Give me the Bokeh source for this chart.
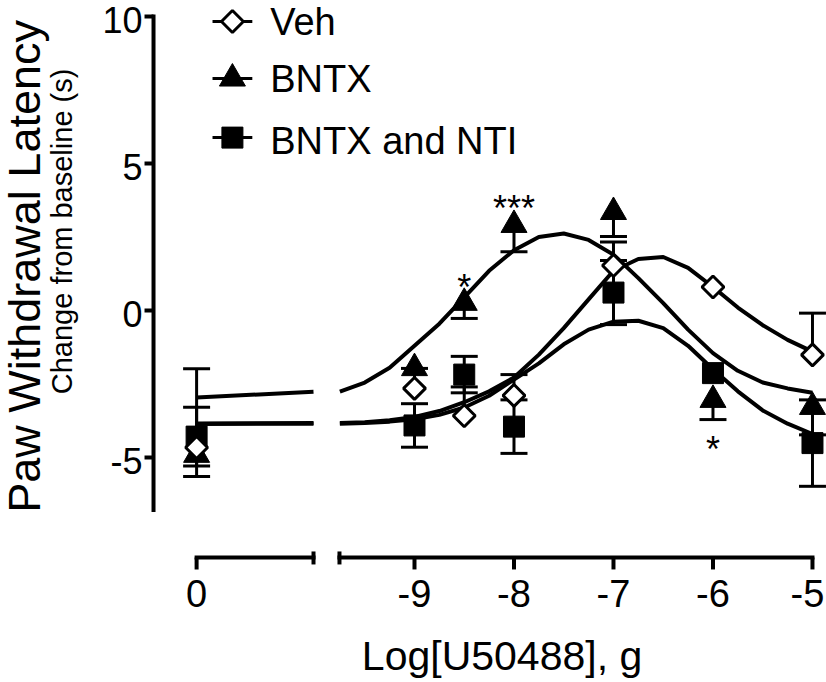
import math
from bokeh.plotting import figure
from bokeh.core.properties import value
from bokeh.embed import file_html
from bokeh.resources import INLINE

# ---------------- data ----------------
X_ZERO = -11.19                     # plotting position of the "0" dose on the broken axis
dose_x = [X_ZERO, -9.0, -8.5, -8.0, -7.0, -6.0, -5.0]
x_tick_values = [X_ZERO, -9.0, -8.0, -7.0, -6.0, -5.0]
x_tick_labels = ["0", "-9", "-8", "-7", "-6", "-5"]
y_tick_values = [-5, 0, 5, 10]
y_tick_labels = ["-5", "0", "5", "10"]

veh_mean = [-4.66, -2.65, -3.58, -2.89, 1.53, 0.80, -1.51]
veh_err_up = [2.68, 0.68, 0.98, 0.71, 0.80, 0.0, 1.42]

bntx_mean = [-4.91, -1.96, 0.26, 2.91, 3.35, -3.04, -3.28]
bntx_err_down = [0.74, 0.0, 0.53, 0.91, 0.83, 0.67, 0.95]

nti_mean = [-4.29, -3.91, -2.18, -3.95, 0.61, -2.13, -4.51]
nti_err = [1.00, 0.74, 0.62, 0.91, 1.09, 0.0, 1.47]

# fitted curves
curve_x = [-9.75, -9.5, -9.25, -9.0, -8.75, -8.5, -8.25, -8.0, -7.75, -7.5,
           -7.25, -7.0, -6.75, -6.5, -6.25, -6.0, -5.75, -5.5, -5.25, -5.0]
bntx_curve = [-2.76, -2.45, -1.95, -1.20, -0.45, 0.45, 1.35, 2.05, 2.50, 2.62,
              2.40, 1.90, 1.10, 0.25, -0.65, -1.45, -2.05, -2.45, -2.65, -2.80]
veh_curve = [-3.83, -3.80, -3.73, -3.62, -3.42, -3.12, -2.75, -2.28, -1.50, -0.60,
             0.38, 1.35, 1.75, 1.82, 1.45, 0.80, 0.10, -0.50, -1.00, -1.40]
nti_curve = [-3.85, -3.83, -3.78, -3.70, -3.55, -3.30, -2.90, -2.35, -1.80, -1.15,
             -0.65, -0.38, -0.35, -0.60, -1.20, -2.00, -2.75, -3.40, -3.85, -4.20]

left_x = [X_ZERO, -10.015]
bntx_left = [-2.96, -2.76]
veh_left = [-3.84, -3.83]
nti_left = [-3.86, -3.85]

sig_x = [-8.5, -8.0, -6.0]
sig_y = [1.09, 3.78, -4.42]
sig_text = ["*", "***", "*"]

series_names = ["Veh", "BNTX", "BNTX and NTI"]

# ---------------- figure ----------------
FONT = "Liberation Sans"
PX_X = 99.5   # px per x unit
PX_Y = 29.4   # px per y unit

p = figure(width=826, height=682, x_range=(-13.161, -4.859), y_range=(-12.653, 10.544),
           output_backend="svg", toolbar_location=None,
           x_axis_location=None, y_axis_location=None,
           min_border_left=0, min_border_right=0, min_border_top=0, min_border_bottom=0)
p.outline_line_color = None
p.grid.visible = False
p.background_fill_color = "white"
p.border_fill_color = "white"

def txt(x, y, t, size, align="center", angle=0.0, y_offset=0, x_offset=0):
    p.text(x=x, y=y, text=t, angle=angle, x_offset=x_offset, y_offset=y_offset,
           text_align=align, text_baseline="middle", text_font=value(FONT),
           text_font_size=size, text_color="black")

# ---- y axis ----
ax_x = -11.623
p.segment(x0=[ax_x], x1=[ax_x], y0=[-6.85], y1=[10 + 2 / PX_Y], line_width=4, line_color="black")
p.segment(x0=[ax_x] * 4, x1=[ax_x - 9 / PX_X] * 4, y0=y_tick_values, y1=y_tick_values,
          line_width=4, line_color="black")
txt([ax_x - 11 / PX_X] * 4, y_tick_values, y_tick_labels, "36px", align="right", y_offset=4)

# y titles
txt([-12.92], [1.50], ["Paw Withdrawal Latency"], "45px", angle=math.pi / 2)
txt([-12.54], [2.69], ["Change from baseline (s)"], "29px", angle=math.pi / 2)

# ---- broken x axis ----
ax_y = -8.40
ext = 2.0 / PX_X
p.segment(x0=[X_ZERO - ext, -9.754 - ext], x1=[-10.015 + ext, -5.0 + ext],
          y0=[ax_y, ax_y], y1=[ax_y, ax_y], line_width=4, line_color="black")
p.segment(x0=x_tick_values, x1=x_tick_values, y0=[ax_y] * 6,
          y1=[ax_y - 12 / PX_Y] * 6, line_width=4, line_color="black")
p.segment(x0=[-10.015, -9.754], x1=[-10.015, -9.754], y0=[ax_y + 6 / PX_Y] * 2,
          y1=[ax_y - 7 / PX_Y] * 2, line_width=4, line_color="black")
txt(x_tick_values, [ax_y - 36 / PX_Y] * 6, x_tick_labels, "38px",
    x_offset=[0, 0, 0, 0, 0, -5])
txt([-8.12], [ax_y - 99 / PX_Y], ["Log[U50488], g"], "41px")

# ---- curves ----
for xs, ys in [(left_x, bntx_left), (left_x, veh_left), (left_x, nti_left),
               (curve_x, bntx_curve), (curve_x, veh_curve), (curve_x, nti_curve)]:
    p.line(xs, ys, line_width=4, line_color="black", line_join="round")

# ---- error bars ----
EW = 3
CAP = 27
vx = [x for x, e in zip(dose_x, veh_err_up) if e > 0]
vy0 = [m for m, e in zip(veh_mean, veh_err_up) if e > 0]
vy1 = [m + e for m, e in zip(veh_mean, veh_err_up) if e > 0]
bx = [x for x, e in zip(dose_x, bntx_err_down) if e > 0]
by0 = [m for m, e in zip(bntx_mean, bntx_err_down) if e > 0]
by1 = [m - e for m, e in zip(bntx_mean, bntx_err_down) if e > 0]
nx = [x for x, e in zip(dose_x, nti_err) if e > 0]
ny0 = [m - e for m, e in zip(nti_mean, nti_err) if e > 0]
ny1 = [m + e for m, e in zip(nti_mean, nti_err) if e > 0]

p.segment(x0=vx, x1=vx, y0=vy0, y1=vy1, line_width=EW, line_color="black")
p.scatter(vx, vy1, marker="dash", size=CAP, line_width=EW, line_color="black")
p.segment(x0=bx, x1=bx, y0=by0, y1=by1, line_width=EW, line_color="black")
p.scatter(bx, by1, marker="dash", size=CAP, line_width=EW, line_color="black")
p.segment(x0=nx, x1=nx, y0=ny0, y1=ny1, line_width=EW, line_color="black")
p.scatter(nx + nx, ny0 + ny1, marker="dash", size=CAP, line_width=EW, line_color="black")

# ---- markers ----
SQ = 21
TRI = 26
DIA = 15.5
p.scatter(dose_x, nti_mean, marker="square", size=SQ, fill_color="black", line_color="black")
p.scatter(dose_x, bntx_mean, marker="triangle", size=TRI, fill_color="black", line_color="black")
p.scatter(dose_x, veh_mean, marker="square", angle=math.pi / 4, size=DIA,
          fill_color="white", line_color="black", line_width=3)

# ---- significance marks ----
txt(sig_x, sig_y, sig_text, "36px", y_offset=9)

# ---- legend (drawn manually) ----
leg_line_x0, leg_line_x1, leg_mark_x, leg_text_x = -11.03, -10.63, -10.83, -10.45
leg_mark_y = [9.83, 7.89, 5.88]
leg_text_y = [9.81, 7.89, 5.76]
p.segment(x0=[leg_line_x0] * 3, x1=[leg_line_x1] * 3, y0=leg_mark_y, y1=leg_mark_y,
          line_width=3, line_color="black")
p.scatter([leg_mark_x], [leg_mark_y[0]], marker="square", angle=math.pi / 4, size=DIA,
          fill_color="white", line_color="black", line_width=3)
p.scatter([leg_mark_x], [leg_mark_y[1]], marker="triangle", size=TRI,
          fill_color="black", line_color="black")
p.scatter([leg_mark_x], [leg_mark_y[2]], marker="square", size=SQ,
          fill_color="black", line_color="black")
txt([leg_text_x] * 3, leg_text_y, series_names, "38px", align="left")

open("out.html", "w").write(file_html(p, INLINE))
